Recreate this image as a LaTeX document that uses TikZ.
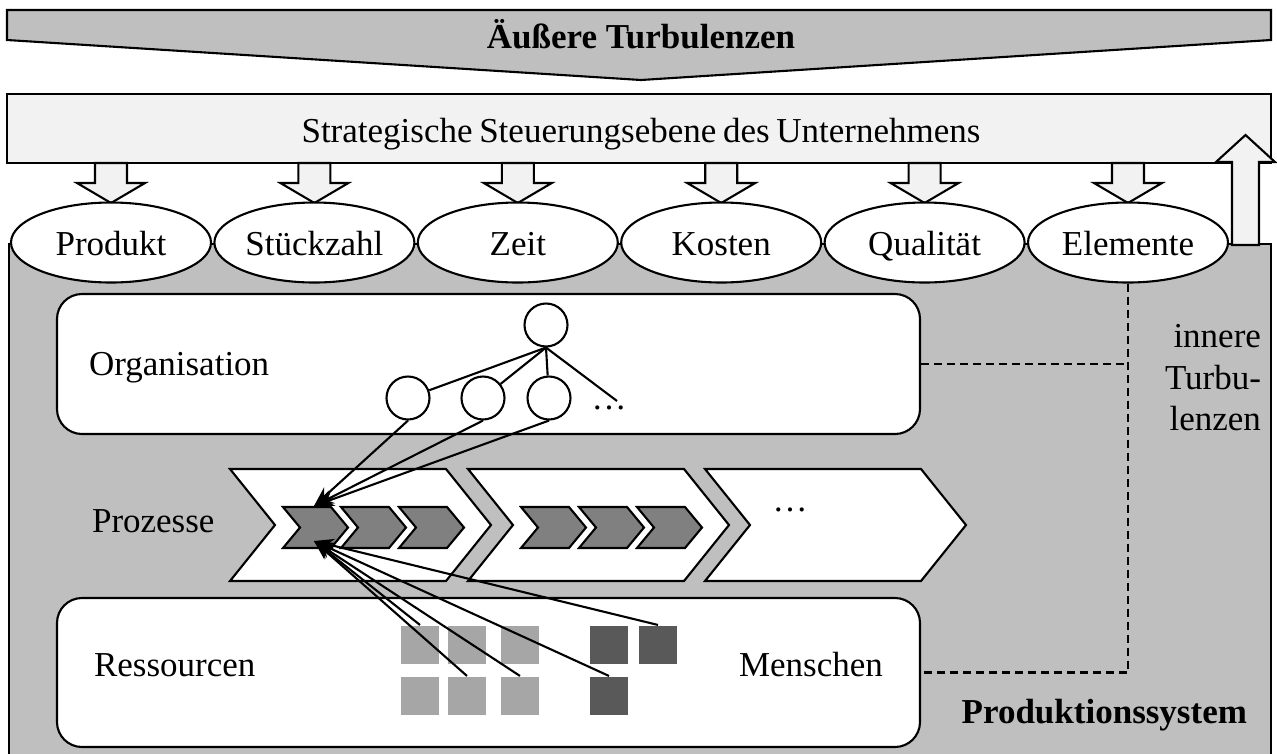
\documentclass[tikz,border=0pt]{standalone}
\usepackage{fontspec}
\setmainfont{Liberation Serif}
\usetikzlibrary{shapes.geometric,arrows.meta,calc}

\definecolor{bannergray}{HTML}{BFBFBF}
\definecolor{palegray}{HTML}{F2F2F2}
\definecolor{stepgray}{HTML}{808080}
\definecolor{lightsq}{HTML}{A6A6A6}
\definecolor{darksq}{HTML}{595959}

\begin{document}
\begin{tikzpicture}[x=1pt,y=-1pt,line width=2.1pt,line join=miter,
  lbl/.style={font=\fontsize{35}{42}\selectfont,inner sep=0pt},
  boldlbl/.style={font=\fontsize{35}{42}\selectfont\bfseries,inner sep=0pt},
  goal/.style={ellipse,draw,fill=white,minimum width=200pt,minimum height=80pt,inner sep=0pt},
  layerbox/.style={draw,fill=white,rounded corners=25pt,inner sep=0pt},
  blockarrow/.style={draw,fill=palegray},
  bigstep/.style={draw,fill=white},
  smallstep/.style={draw,fill=stepgray},
  sq/.style={inner sep=0pt,minimum size=38pt},
  orgunit/.style={circle,draw,fill=white,inner sep=0pt,minimum size=43pt},
  link/.style={-{Stealth[length=20pt,width=14pt]}},
  turb/.style={dash pattern=on 8pt off 5pt}]
\useasboundingbox (0,0) rectangle (1277,753);

% outer turbulence banner
\draw[fill=bannergray] (7,10) -- (1271,10) -- (1271,40) -- (641,80) -- (7,40) -- cycle;
\node[boldlbl,anchor=base] (tTop) at (641,48) {Äußere Turbulenzen};

% strategic level
\node[draw,fill=palegray,minimum width=1264pt,minimum height=69pt,inner sep=0pt] (strat) at (639,128.5) {};
\node[lbl,anchor=base] (tStrat) at (641,142)
  {\spaceskip=0.19em plus 0.05em Strategische Steuerungsebene des Unternehmens};

% downward block arrows
\foreach \x in {111,314.4,517.8,721.2,924.6,1128}
  \draw[blockarrow] (\x-16,163) -- (\x+16,163) -- (\x+16,183) -- (\x+34,183) -- (\x,203)
    -- (\x-34,183) -- (\x-16,183) -- cycle;

% production system area
\draw[fill=bannergray] (9,770) -- (9,244) -- (1271,244) -- (1271,770);

% target figures
\node[goal] (eP) at (111,242.5) {};
\node[goal] (eS) at (314.4,242.5) {};
\node[goal] (eZ) at (517.8,242.5) {};
\node[goal] (eK) at (721.2,242.5) {};
\node[goal] (eQ) at (924.6,242.5) {};
\node[goal] (eE) at (1128,242.5) {};
\node[lbl,anchor=base] (tP) at (111,255) {Produkt};
\node[lbl,anchor=base] (tS) at (314.4,255) {Stückzahl};
\node[lbl,anchor=base] (tZ) at (517.8,255) {Zeit};
\node[lbl,anchor=base] (tK) at (721.2,255) {Kosten};
\node[lbl,anchor=base] (tQ) at (924.6,255) {Qualität};
\node[lbl,anchor=base] (tE) at (1128,255) {Elemente};

% upward block arrow
\draw[blockarrow] (1232,245) -- (1232,162) -- (1216,162) -- (1245.5,135) -- (1275,162)
  -- (1259,162) -- (1259,245) -- cycle;

% layers
\node[layerbox,minimum width=863pt,minimum height=140pt] (org) at (488.5,364) {};
\node[layerbox,minimum width=863pt,minimum height=149pt] (res) at (488.5,672.5) {};
\node[lbl,anchor=base west] (tOrg) at (88,375) {Organisation};
\node[lbl,anchor=base west] (tProz) at (91,532) {Prozesse};
\node[lbl,anchor=base west] (tRes) at (93,676) {Ressourcen};
\node[lbl,anchor=base west] (tMen) at (738,676) {Menschen};

% process chain
\foreach \x in {230,468,705}
  \draw[bigstep] (\x,469) -- (\x+216,469) -- (\x+261,525) -- (\x+216,581) -- (\x,581)
    -- (\x+45,525) -- cycle;
\foreach \x in {283,341,399,521,579,637}
  \draw[smallstep] (\x,507) -- (\x+48,507) -- (\x+65,527.5) -- (\x+48,548) -- (\x,548)
    -- (\x+17,527.5) -- cycle;
\node[lbl,anchor=base] (dots2) at (790,511) {…};

% organisation tree
\node[orgunit] (root) at (546,325) {};
\node[orgunit] (c1) at (408,398) {};
\node[orgunit] (c2) at (483,398) {};
\node[orgunit] (c3) at (549,398) {};
\coordinate (more) at (617,401);
\node[lbl,anchor=base] (dots1) at (609,409) {…};
\draw (root.south) -- (c1);
\draw (root.south) -- (c2);
\draw (root.south) -- (c3);
\draw (root.south) -- (more);

% resources and people
\node[sq,fill=lightsq] (l11) at (420,645) {};
\node[sq,fill=lightsq] (l12) at (467,645) {};
\node[sq,fill=lightsq] (l13) at (520,645) {};
\node[sq,fill=lightsq] (l21) at (420,696) {};
\node[sq,fill=lightsq] (l22) at (467,696) {};
\node[sq,fill=lightsq] (l23) at (520,696) {};
\node[sq,fill=darksq] (d11) at (609,645) {};
\node[sq,fill=darksq] (d12) at (658,645) {};
\node[sq,fill=darksq] (d21) at (609,696) {};

% inner turbulence
\draw[turb] (eE.south) -- (eE.south |- res.east) -- (res.east);
\draw[turb] (org.east) -- (org.east -| eE.south);
\node[lbl,anchor=base east] (tIn1) at (1262,347) {innere};
\node[lbl,anchor=base east] (tIn2) at (1262,389) {Turbu-};
\node[lbl,anchor=base east] (tIn3) at (1262,430) {lenzen};
\node[boldlbl,anchor=base east] (tPS) at (1248,723) {Produktionssystem};

% links into the first process step
\coordinate (hitO) at (314,506);
\coordinate (hitR) at (314,541);
\draw[link] (c1.south) -- (hitO);
\draw[link] (c2.south) -- (hitO);
\draw[link] (c3.south) -- (hitO);
\draw[link] (l11.north) -- (hitR);
\draw[link] (l22.north) -- (hitR);
\draw[link] (l23.north) -- (hitR);
\draw[link] (d21.north) -- (hitR);
\draw[link] (d12.north) -- (hitR);
\end{tikzpicture}
\end{document}
